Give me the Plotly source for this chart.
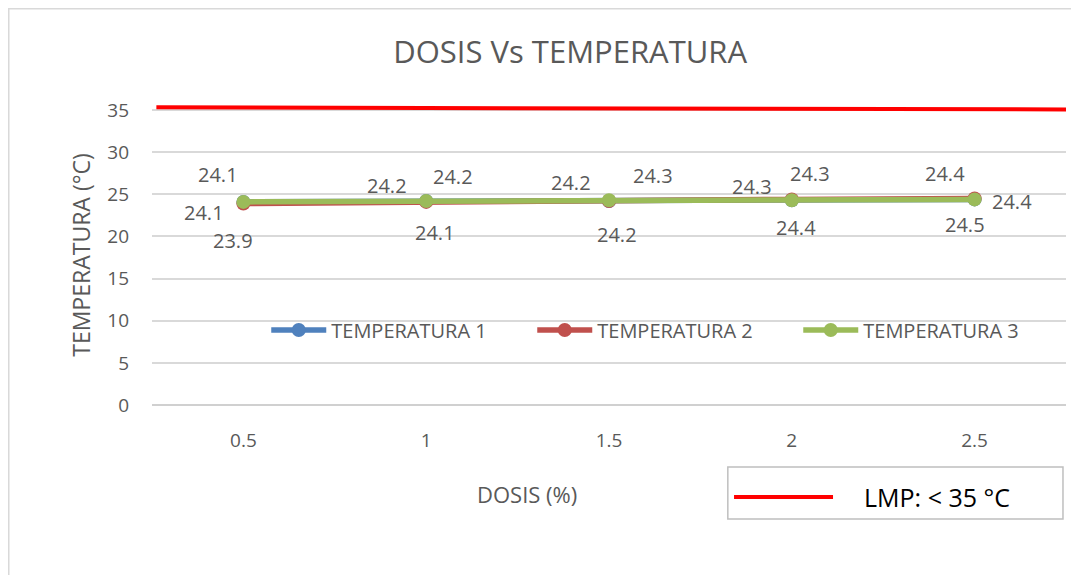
import plotly.graph_objects as go

dosis = [0.5, 1, 1.5, 2, 2.5]
dosis_labels = ["0.5", "1", "1.5", "2", "2.5"]
temp_1 = [24.1, 24.2, 24.2, 24.3, 24.4]
temp_2 = [23.9, 24.1, 24.2, 24.4, 24.5]
temp_3 = [24.1, 24.2, 24.3, 24.3, 24.4]
lmp_x = [0.262, 2.75]
lmp_y = [35.32, 35.08]
y_ticks = [0, 5, 10, 15, 20, 25, 30, 35]

FONT = "Open Sans"
GRAY = "#595959"

# label offsets (px) per series, as placed by hand in the original
shifts_1 = [(-39, -11), (-39, 16), (-38, 19), (-40, 14), (37, -2)]
shifts_2 = [(-10, -37), (9, -31), (8, -33), (4, -28), (-10, -26)]
shifts_3 = [(-25, 27), (27, 25), (44, 25), (18, 27), (-30, 26)]

fig = go.Figure()
annotations = []

series = [
    ("TEMPERATURA 1", temp_1, "#4F81BD", shifts_1),
    ("TEMPERATURA 2", temp_2, "#C0504D", shifts_2),
    ("TEMPERATURA 3", temp_3, "#9BBB59", shifts_3),
]
for name, vals, color, shifts in series:
    fig.add_trace(go.Scatter(
        x=dosis, y=vals, name=name, mode="lines+markers",
        line=dict(color=color, width=5.5),
        marker=dict(color=color, size=14),
    ))
    for xv, yv, (dx, dy) in zip(dosis, vals, shifts):
        annotations.append(dict(
            x=xv, y=yv, xref="x", yref="y", text=f"{yv:.1f}", showarrow=False,
            xshift=dx, yshift=dy, xanchor="center", yanchor="middle",
            font=dict(size=20, color=GRAY, family=FONT),
        ))

fig.add_trace(go.Scatter(
    x=lmp_x, y=lmp_y, mode="lines", showlegend=False,
    line=dict(color="#FF0000", width=4), hoverinfo="skip",
))

# x axis title sits left of centre in the original
annotations.append(dict(
    text="DOSIS (%)", xref="paper", yref="paper", x=0.41, y=-0.2967,
    xanchor="center", yanchor="middle", showarrow=False,
    font=dict(size=22, color=GRAY, family=FONT),
))
annotations.append(dict(
    text="LMP: < 35 °C", xref="paper", yref="paper", x=0.7768, y=-0.3067,
    xanchor="left", yanchor="middle", showarrow=False,
    font=dict(size=25, color="black", family=FONT),
))

fig.update_layout(
    width=1079, height=575,
    margin=dict(l=144, r=21, t=97, b=178),
    paper_bgcolor="white", plot_bgcolor="white",
    font=dict(family=FONT, color=GRAY, size=19),
    title=dict(text="DOSIS Vs TEMPERATURA", x=0.521, xanchor="center",
               y=0.9235, yanchor="middle", font=dict(size=31, color=GRAY, family=FONT)),
    showlegend=True,
    legend=dict(orientation="h", x=0.125, y=0.25, xanchor="left", yanchor="middle",
                bgcolor="rgba(0,0,0,0)", entrywidth=196, entrywidthmode="pixels",
                font=dict(size=20, color=GRAY, family=FONT), itemwidth=55),
    xaxis=dict(range=[0.25, 2.75], tickvals=dosis, ticktext=dosis_labels,
               showgrid=False, zeroline=False, showline=False, ticks="",
               ticklabelstandoff=22, tickfont=dict(size=19)),
    yaxis=dict(range=[0, 35.6], tickvals=y_ticks, showgrid=True, gridcolor="#D9D9D9",
               gridwidth=1.5, zeroline=True, zerolinecolor="#D0D0D0", zerolinewidth=1.5,
               showline=False, ticks="", ticklabelstandoff=22, tickfont=dict(size=19),
               title=dict(text="TEMPERATURA (°C)", font=dict(size=23, color=GRAY), standoff=10)),
    shapes=[
        dict(type="rect", xref="paper", yref="paper", x0=-0.1567, x1=1.05, y0=-0.7, y1=1.3208,
             line=dict(color="#D9D9D9", width=1.5), fillcolor="rgba(0,0,0,0)", layer="below"),
        dict(type="rect", xref="paper", yref="paper", x0=0.630, x1=0.9967, y0=-0.38, y1=-0.2067,
             line=dict(color="#BFBFBF", width=1.5), fillcolor="white"),
        dict(type="line", xref="paper", yref="paper", x0=0.6368, x1=0.7451, y0=-0.3067, y1=-0.3067,
             line=dict(color="#FF0000", width=4)),
    ],
    annotations=annotations,
)

fig.write_html("out.html")
